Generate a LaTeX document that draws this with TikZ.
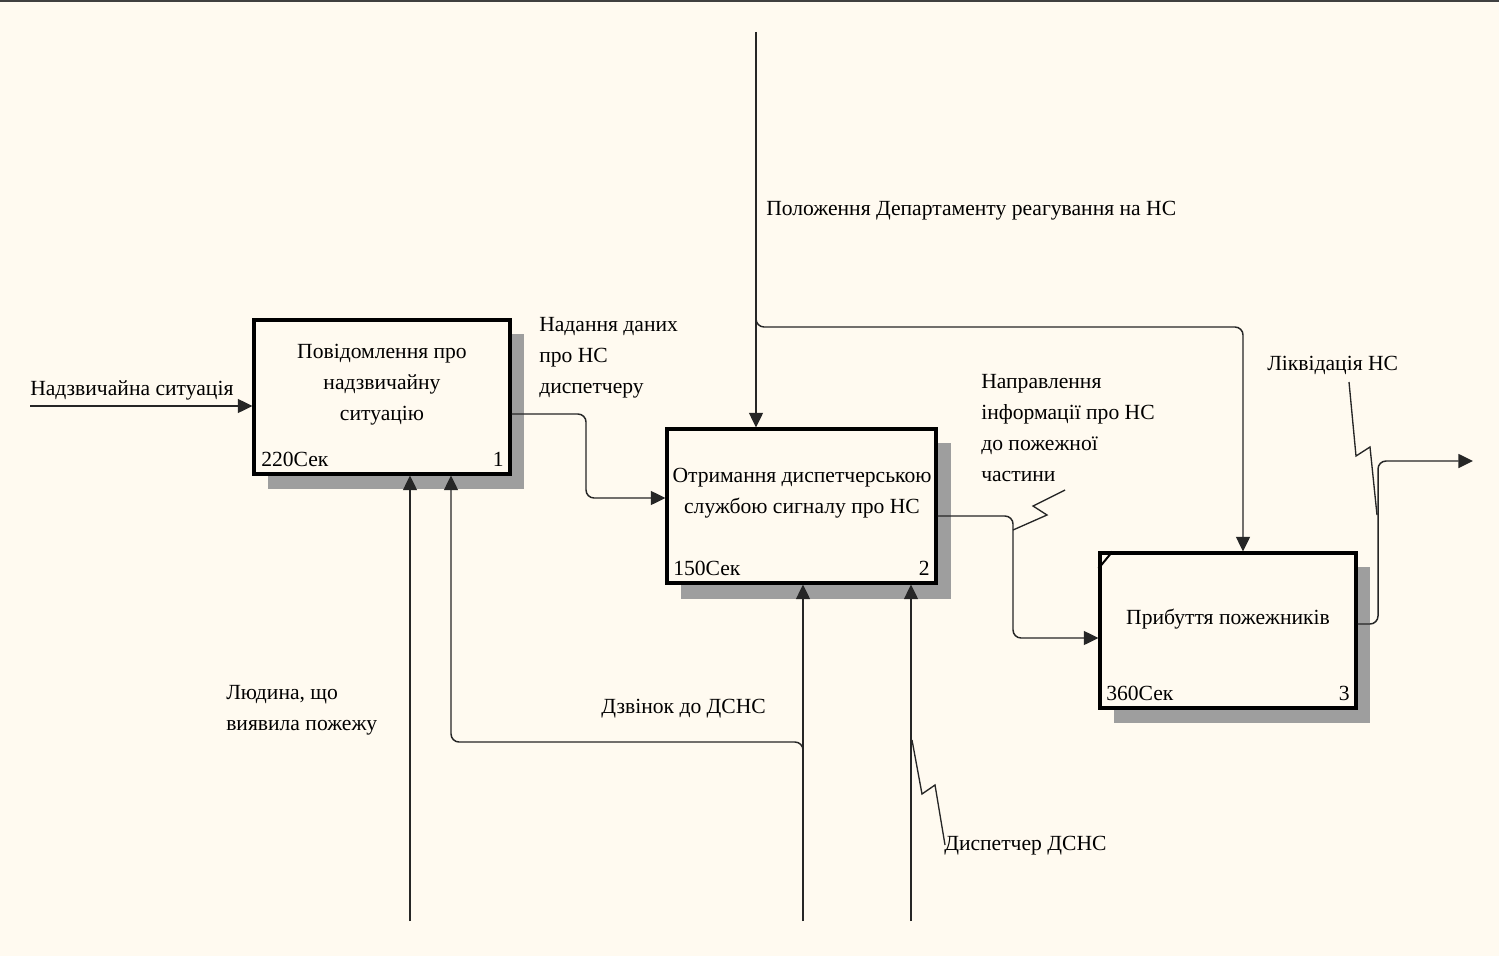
\documentclass[tikz,border=0pt]{standalone}
\usepackage{fontspec}
\setmainfont{Liberation Serif}
\usetikzlibrary{arrows.meta}
\definecolor{bg}{HTML}{FFFAF0}
\definecolor{shade}{gray}{0.62}
\tikzset{
  px/.style={x=0.75pt,y=-0.75pt},
  box/.style={draw=black, line width=2.3pt, fill=bg, inner sep=0pt},
  shadowbox/.style={fill=shade, draw=none},
  conn/.style={line width=1.1pt, draw=black!85},
  arr/.style={conn, -{Triangle[length=11pt,width=10.5pt]}},
  squig/.style={line width=1pt, draw=black!85},
  lbl/.style={font=\fontsize{16.2}{23.2}\selectfont, text=black, inner sep=0pt, align=left},
  ctr/.style={font=\fontsize{16.2}{23.2}\selectfont, text=black, inner sep=0pt, align=center},
}
\begin{document}
\begin{tikzpicture}[px]
\fill[bg] (0,0) rectangle (1499,956);
\useasboundingbox (0,0) rectangle (1499,956);
\draw[line width=1.5pt, black!75] (0,0.8) -- (1499,0.8);

% shadows
\fill[shadowbox] (268,334) rectangle (524,489);
\fill[shadowbox] (681,443) rectangle (951,599);
\fill[shadowbox] (1114,567) rectangle (1370,723);

% boxes
\node[box, minimum width=256*0.75pt, minimum height=154*0.75pt] (b1) at (382,397) {};
\node[box, minimum width=269*0.75pt, minimum height=154*0.75pt] (b2) at (801.5,506) {};
\node[box, minimum width=256*0.75pt, minimum height=155*0.75pt] (b3) at (1228,630.5) {};
\draw[line width=1.5pt] ([yshift=-17*0.75pt]b3.north west) -- ([xshift=14*0.75pt]b3.north west);

% box texts
\node[ctr] (t1) at (382,385) {Повідомлення про\\надзвичайну\\ситуацію};
\node[ctr] (t2) at (802,493) {Отримання диспетчерською\\службою сигналу про НС};
\node[ctr] (t3) at (1228,619) {Прибуття пожежників};
\node[lbl, anchor=west] (c1) at (261,459) {220Сек};
\node[lbl, anchor=east] (n1) at (504,459) {1};
\node[lbl, anchor=west] (c2) at (673,568) {150Сек};
\node[lbl, anchor=east] (n2) at (930,568) {2};
\node[lbl, anchor=west] (c3) at (1106,693) {360Сек};
\node[lbl, anchor=east] (n3) at (1350,693) {3};

% free ends
\coordinate (in1) at (30,406);
\coordinate (ctop) at (756,32);
\coordinate (out3) at (1473,461);
\coordinate (m1) at (410,921);
\coordinate (m2) at (803,921);
\coordinate (m3) at (911,921);

% input
\draw[arr] (in1) -- (in1 -| b1.west);
% b1 -> b2
\draw[arr, rounded corners=6] (b1.east |- 0,414) -- (586,414) -- (586,498) -- (b2.west |- 0,498);
% control
\draw[arr] (ctop) -- (ctop |- b2.north);
\draw[arr, rounded corners=6] (756,318) -- (756,327) -- (1243,327) -- (1243,0 |- b3.north);
% b2 -> b3
\draw[arr, rounded corners=6] (b2.east |- 0,516) -- (1013,516) -- (1013,638) -- (b3.west |- 0,638);
% output
\draw[arr, rounded corners=6] (b3.east |- 0,624) -- (1378,624) -- (1378,461) -- (out3);
% mechanisms / bottom inputs
\draw[arr] (m1) -- (m1 |- b1.south);
\draw[arr] (m2) -- (m2 |- b2.south);
\draw[arr, rounded corners=6] (803,752) -- (803,742) -- (451,742) -- (451,0 |- b1.south);
\draw[arr] (m3) -- (m3 |- b2.south);

% squiggles
\draw[squig] (1065,490) -- (1033,506) -- (1047,515) -- (1013,530);
\draw[squig] (1349,382) -- (1356,456) -- (1370,447) -- (1377,515);
\draw[squig] (912,740) -- (922,794) -- (935,785) -- (945,845);

% labels
\node[lbl, anchor=west] (l1) at (30,390) {Надзвичайна ситуація};
\node[lbl, anchor=west] (l2) at (539,358) {Надання даних\\про НС\\диспетчеру};
\node[lbl, anchor=west] (l3) at (766,211) {Положення Департаменту реагування на НС};
\node[lbl, anchor=west] (l4) at (981,428) {Направлення\\інформації про НС\\до пожежної\\частини};
\node[lbl, anchor=west] (l5) at (1267,365) {Ліквідація НС};
\node[lbl, anchor=west] (l6) at (226,710) {Людина, що\\виявила пожежу};
\node[lbl, anchor=west] (l7) at (601,709) {Дзвінок до ДСНС};
\node[lbl, anchor=west] (l8) at (944,846) {Диспетчер ДСНС};
\end{tikzpicture}
\end{document}
